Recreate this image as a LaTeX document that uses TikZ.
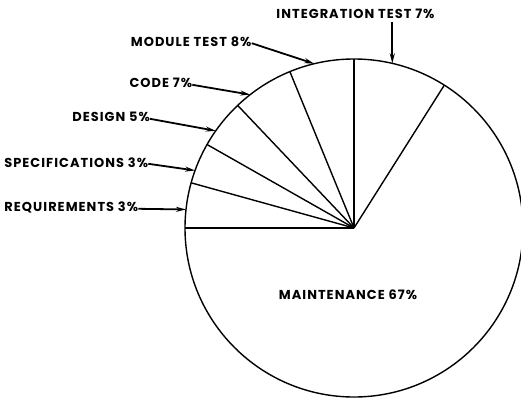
\documentclass[tikz,border=0pt]{standalone}
\usepackage{fontspec}
\setmainfont{Poppins}
\newfontfamily\lblfont{Poppins}[LetterSpace=8]
\usetikzlibrary{arrows.meta,calc}
\begin{document}
\begin{tikzpicture}[x=1bp,y=1bp,
  lbl/.style={font=\lblfont\fontsize{13}{15}\selectfont\bfseries, inner sep=0pt},
  pie/.style={line width=1.4bp, line join=round},
  ptr/.style={line width=1.8bp, -{Stealth[length=10bp,width=5bp]}}]
\useasboundingbox (0,0) rectangle (521,399);
\coordinate (c) at (354,171);
\def\R{169}
% pie
\draw[pie] (c) circle (\R);
\foreach \a/\n in {180/r0,164.5/r1,150.4/r2,133.5/r3,112.3/r4,90/r5,57.7/r6}{
  \coordinate (\n) at ($(c)+(\a:\R)$);
  \draw[pie] (c) -- (\n);
}
% arrow targets on the circle
\coordinate (tReq) at ($(c)+(173.7:\R)$);
\coordinate (tSpec) at ($(c)+(160.1:\R)$);
\coordinate (tDes) at ($(c)+(144.9:\R)$);
\coordinate (tCode) at ($(c)+(127.9:\R)$);
\coordinate (tMod) at ($(c)+(103.6:\R)$);
\coordinate (tInt) at ($(c)+(76.9:\R)$);
% labels
\node[lbl, anchor=east] (req) at (138.3,191.7) {REQUIREMENTS 3\%};
\node[lbl, anchor=east] (spec) at (148.3,236.7) {SPECIFICATIONS 3\%};
\node[lbl, anchor=east] (des) at (150,281.7) {DESIGN 5\%};
\node[lbl, anchor=east] (code) at (192.3,315.7) {CODE 7\%};
\node[lbl, anchor=east] (mod) at (251.7,357.3) {MODULE TEST 8\%};
\node[lbl] (int) at (355.5,385) {INTEGRATION TEST 7\%};
\node[lbl] (main) at (348,104) {MAINTENANCE 67\%};
% arrows
\draw[ptr] ([yshift=-1.5bp]req.east) -- (tReq);
\draw[ptr] ([yshift=-1.5bp]spec.east) -- (tSpec);
\draw[ptr] ([yshift=-1.5bp]des.east) -- (tDes);
\draw[ptr] ([yshift=-1.5bp]code.east) -- (tCode);
\draw[ptr] ([yshift=-1.5bp]mod.east) -- (tMod);
\draw[ptr] (int.south -| tInt) ++(0,-3) -- (tInt);
\end{tikzpicture}
\end{document}
